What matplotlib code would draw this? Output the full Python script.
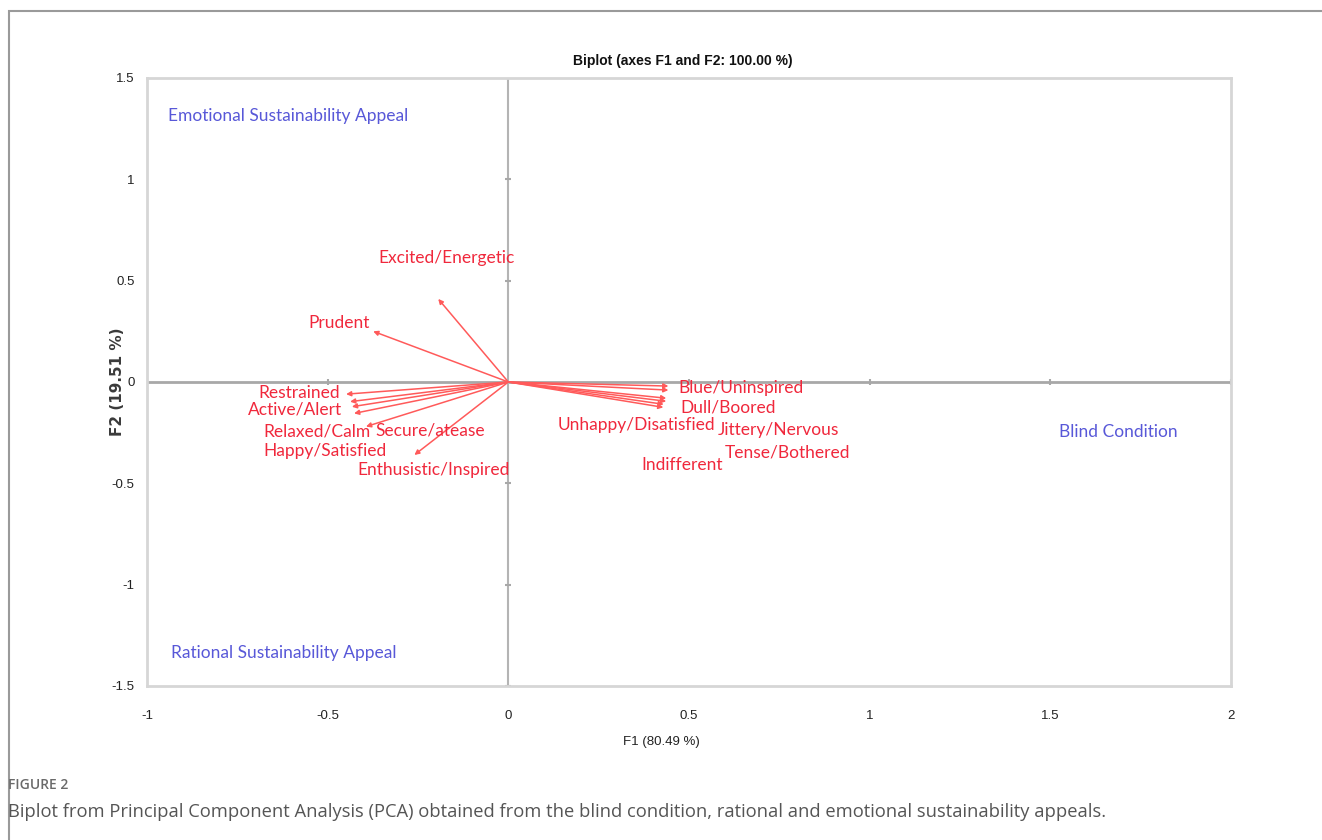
import matplotlib.pyplot as plt
from matplotlib.patches import Rectangle

# Variable loadings (F1, F2)
variables = ['Excited/Energetic', 'Prudent', 'Restrained', 'Active/Alert',
             'Happy/Satisfied', 'Relaxed/Calm', 'Secure/atease', 'Enthusistic/Inspired',
             'Blue/Uninspired', 'Dull/Boored', 'Unhappy/Disatisfied', 'Jittery/Nervous',
             'Tense/Bothered', 'Indifferent']
f1 = [-0.194, -0.374, -0.449, -0.438, -0.433, -0.427, -0.394, -0.26,
      0.443, 0.443, 0.437, 0.437, 0.43, 0.429]
f2 = [0.41, 0.25, -0.06, -0.097, -0.122, -0.155, -0.22, -0.36,
      -0.02, -0.04, -0.08, -0.095, -0.11, -0.125]

# Observations
observations = ['Emotional Sustainability Appeal', 'Rational Sustainability Appeal', 'Blind Condition']

ticks = [-1, -0.5, 0, 0.5, 1, 1.5, 2]
yticks = [-1.5, -1, -0.5, 0, 0.5, 1, 1.5]

# label anchor positions (centre of text) in data units
var_lab_x = [-0.172, -0.468, -0.579, -0.59, -0.507, -0.529, -0.216, -0.208,
             0.643, 0.609, 0.355, 0.748, 0.773, 0.48]
var_lab_y = [0.612, 0.291, -0.054, -0.138, -0.34, -0.242, -0.237, -0.434,
             -0.03, -0.128, -0.212, -0.237, -0.35, -0.41]
obs_lab_x = [-0.609, -0.622, 1.687]
obs_lab_y = [1.312, -1.337, -0.247]

red_line = '#ff5a5a'
red_text = '#f0283c'
blue_text = '#5858d8'
sans = 'Liberation Sans'

fig = plt.figure(figsize=(13.22, 8.40), dpi=100)

# outer frame of the figure panel
fig.patches.append(Rectangle((9 / 1322, -0.1), 1.2, (840 - 11) / 840 + 0.1,
                             transform=fig.transFigure, fill=False,
                             edgecolor='#9a9a9a', linewidth=1.5))

ax = fig.add_axes([147 / 1322, 1 - 686 / 840, (1231 - 147) / 1322, (686 - 78) / 840])
ax.set_xlim(-1, 2)
ax.set_ylim(-1.5, 1.5)
for s in ax.spines.values():
    s.set_color('#d6d6d6')
    s.set_linewidth(2)

ax.set_xticks(ticks)
ax.set_yticks(yticks)
ax.set_xticklabels([f'{t:g}' for t in ticks], family=sans, fontsize=9.5, color='#222222')
ax.set_yticklabels([f'{t:g}' for t in yticks], family=sans, fontsize=9.5, color='#222222')
ax.tick_params(axis='x', length=0, pad=17)
ax.tick_params(axis='y', length=0, pad=9)

# zero axes with small tick marks
ax.axhline(0, color='#a8a8a8', lw=2, zorder=1)
ax.axvline(0, color='#b4b4b4', lw=1.5, zorder=1)
ax.plot([t for t in ticks if t != 0], [0] * (len(ticks) - 1), ls='none', marker='|',
        ms=5, mew=1.5, color='#a8a8a8', zorder=1)
ax.plot([0] * (len(yticks) - 1), [t for t in yticks if t != 0], ls='none', marker='_',
        ms=5, mew=1.5, color='#a8a8a8', zorder=1)

# loading vectors
for x, y in zip(f1, f2):
    ax.annotate('', xy=(x, y), xytext=(0, 0),
                arrowprops=dict(arrowstyle='-|>', color=red_line, lw=1.1,
                                mutation_scale=7, shrinkA=0, shrinkB=0))

for name, x, y in zip(variables, var_lab_x, var_lab_y):
    ax.text(x, y, name, color=red_text, fontsize=12.5, family='Lato',
            ha='center', va='center')

for name, x, y in zip(observations, obs_lab_x, obs_lab_y):
    ax.text(x, y, name, color=blue_text, fontsize=12.5, family='Lato',
            ha='center', va='center')

fig.text(683 / 1322, 1 - 61 / 840, 'Biplot (axes F1 and F2: 100.00 %)',
         family=sans, fontsize=10, fontweight='bold', color='#111111',
         ha='center', va='center')
fig.text(661 / 1322, 1 - 742 / 840, 'F1 (80.49 %)', family=sans, fontsize=9.5,
         color='#222222', ha='center', va='center')
fig.text(118 / 1322, 1 - 382 / 840, 'F2 (19.51 %)', family='DejaVu Sans', fontsize=11,
         fontweight='bold', color='#3a3a3a', rotation=90, ha='center', va='center')

fig.text(8 / 1322, 1 - 785 / 840, 'FIGURE 2', family='Open Sans', fontsize=10,
         fontweight='semibold', color='#6a6a6a', ha='left', va='center')
fig.text(8 / 1322, 1 - 812 / 840,
         'Biplot from Principal Component Analysis (PCA) obtained from the blind condition, '
         'rational and emotional sustainability appeals.',
         family='Open Sans', fontsize=13.2, color='#555555', ha='left', va='center')

fig.savefig('out.png', dpi=100)
